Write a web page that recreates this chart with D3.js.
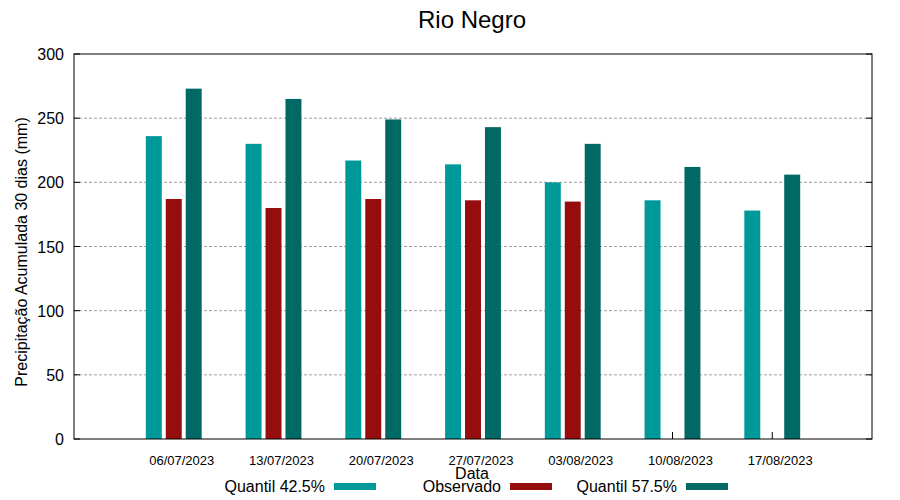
<!DOCTYPE html>
<html>
<head>
<meta charset="utf-8">
<script src="https://cdn.jsdelivr.net/npm/d3@7"></script>
<style>
  body { margin: 0; background: #fff; }
  text { font-family: "Liberation Sans", Arial, sans-serif; }
</style>
</head>
<body>
<svg id="chart" width="900" height="500"></svg>
<script>
// data
const dates = ['06/07/2023', '13/07/2023', '20/07/2023', '27/07/2023', '03/08/2023', '10/08/2023', '17/08/2023']
const q425 = [236, 230, 217, 214, 200, 186, 178]
const observado = [187, 180, 187, 186, 185, null, null]
const q575 = [273, 265, 249, 243, 230, 212, 206]
const yTicks = [0, 50, 100, 150, 200, 250, 300]

const series = [
    { name: 'Quantil 42.5%', values: q425, color: '#009999', off: -0.2 },
    { name: 'Observado', values: observado, color: '#960d0d', off: 0 },
    { name: 'Quantil 57.5%', values: q575, color: '#006966', off: 0.2 }
]

const svg = d3.select('#chart')
const plotL = 74, plotR = 872, plotT = 54, plotB = 439

const x = d3.scaleLinear().domain([-1, dates.length]).range([plotL, plotR])
const y = d3.scaleLinear().domain([0, 300]).range([plotB, plotT])

// grid
svg.append('g')
    .selectAll('line')
    .data(yTicks.filter(d => d > 0 && d < 300))
    .enter()
    .append('line')
    .attr('x1', plotL).attr('x2', plotR)
    .attr('y1', d => y(d)).attr('y2', d => y(d))
    .attr('stroke', '#a0a0a0')
    .attr('stroke-width', 1)
    .attr('stroke-dasharray', '3,2')

// x ticks at group centres (mostly hidden by the middle bar)
svg.append('g')
    .selectAll('line')
    .data(dates)
    .enter()
    .append('line')
    .attr('x1', (d, i) => x(i)).attr('x2', (d, i) => x(i))
    .attr('y1', plotB).attr('y2', plotB - 7)
    .attr('stroke', '#000')

// bars
const bw = x(0.16) - x(0)
series.forEach(s => {
    svg.append('g')
        .selectAll('rect')
        .data(s.values.map((v, i) => ({ v, i })).filter(d => d.v != null))
        .enter()
        .append('rect')
        .attr('x', d => x(d.i + s.off) - bw / 2)
        .attr('y', d => y(d.v))
        .attr('width', bw)
        .attr('height', d => y(0) - y(d.v))
        .attr('fill', s.color)
})

// y ticks, both sides inward
const ticks = svg.append('g')
ticks.selectAll('line.l')
    .data(yTicks)
    .enter()
    .append('line')
    .attr('x1', plotL).attr('x2', plotL + 6)
    .attr('y1', d => y(d)).attr('y2', d => y(d))
    .attr('stroke', '#000')
ticks.selectAll('line.r')
    .data(yTicks)
    .enter()
    .append('line')
    .attr('x1', plotR).attr('x2', plotR - 6)
    .attr('y1', d => y(d)).attr('y2', d => y(d))
    .attr('stroke', '#000')

// border
svg.append('rect')
    .attr('x', plotL).attr('y', plotT)
    .attr('width', plotR - plotL).attr('height', plotB - plotT)
    .attr('fill', 'none')
    .attr('stroke', '#000')
    .attr('stroke-width', 1)

// y tick labels
svg.append('g')
    .selectAll('text')
    .data(yTicks)
    .enter()
    .append('text')
    .attr('x', plotL - 10)
    .attr('y', d => y(d) + 6)
    .attr('text-anchor', 'end')
    .attr('font-size', 16)
    .text(d => d)

// x tick labels
svg.append('g')
    .selectAll('text')
    .data(dates)
    .enter()
    .append('text')
    .attr('x', (d, i) => x(i) + 8)
    .attr('y', 465)
    .attr('text-anchor', 'middle')
    .attr('font-size', 13)
    .text(d => d)

// titles
svg.append('text')
    .attr('x', 472).attr('y', 28)
    .attr('text-anchor', 'middle')
    .attr('font-size', 24)
    .text('Rio Negro')

svg.append('text')
    .attr('x', 472).attr('y', 479)
    .attr('text-anchor', 'middle')
    .attr('font-size', 16)
    .text('Data')

svg.append('text')
    .attr('transform', 'translate(27,252) rotate(-90)')
    .attr('text-anchor', 'middle')
    .attr('font-size', 16)
    .text('Precipitação Acumulada 30 dias (mm)')

// legend
const legend = svg.append('g')
series.forEach((s, i) => {
    const lx = 325 + i * 176
    legend.append('text')
        .attr('x', lx).attr('y', 492)
        .attr('text-anchor', 'end')
        .attr('font-size', 16)
        .text(s.name)
    legend.append('rect')
        .attr('x', lx + 9).attr('y', 483)
        .attr('width', 42).attr('height', 7)
        .attr('fill', s.color)
})
</script>
</body>
</html>
